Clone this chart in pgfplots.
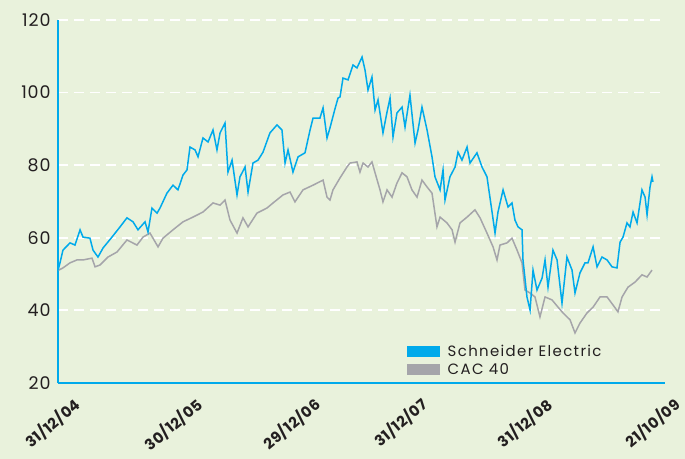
\documentclass[border=0pt]{standalone}
\usepackage{fontspec}
\setmainfont{Poppins}
\newfontfamily\ylabfont[LetterSpace=5]{Poppins}
\newfontfamily\xlabfont[LetterSpace=3]{Poppins}
\newfontfamily\legfont[LetterSpace=9]{Poppins}
\usepackage{pgfplots}
\pgfplotsset{compat=1.18}
\definecolor{bgc}{RGB}{233,242,220}
\definecolor{blueC}{RGB}{0,170,235}
\definecolor{greyC}{RGB}{165,165,170}
\definecolor{txt}{RGB}{35,31,32}
\begin{document}
\begin{tikzpicture}
\fill[bgc] (0bp,0bp) rectangle (685bp,459bp);
\begin{axis}[
  at={(58bp,76bp)}, anchor=south west,
  scale only axis, width=607bp, height=363bp,
  xmin=0, xmax=4.903, ymin=20, ymax=120,
  axis x line=bottom, axis y line=left,
  axis line style={blueC, line width=2bp, -},
  ytick={20,40,60,80,100,120},
  yticklabels={20,40,60,80,100,120},
  xtick={0.057,1.042,1.995,2.859,3.869,4.903},
  xticklabels={31/12/04,30/12/05,29/12/06,31/12/07,31/12/08,21/10/09},
  major tick length=0pt,
  ymajorgrids,
  grid style={white, line width=1.8bp, dash pattern=on 10bp off 6bp},
  yticklabel style={font=\ylabfont\fontsize{17.5}{17.5}\selectfont, text=txt, xshift=-4bp},
  xticklabel style={font=\xlabfont\bfseries\fontsize{15}{15}\selectfont, text=txt, xshift=8bp, yshift=-8bp, rotate=40, anchor=north east},
  reverse legend,
  legend image code/.code={\fill[#1] (0bp,-5bp) rectangle (31bp,5bp);},
  legend style={at={(rel axis cs:0.575,0.110)}, anchor=north west, draw=none, fill=none,
    inner sep=0pt, font=\legfont\fontsize{15}{15}\selectfont, text=txt, cells={anchor=west}, row sep=1bp,
    /tikz/every odd column/.append style={column sep=6bp}},
]
\addplot[color=greyC, line width=1.5bp] coordinates {
(0,51) (0.040,51.7) (0.097,53.1) (0.153,53.9) (0.202,53.9) (0.275,54.4) (0.299,52.0) (0.339,52.5) (0.404,54.7) (0.477,56.1) (0.557,59.4) (0.638,58.0) (0.687,60.2) (0.743,61.3) (0.808,57.5) (0.848,59.9) (0.929,62.2) (1.010,64.4) (1.090,65.7) (1.171,67.1) (1.252,69.6) (1.309,69.0) (1.349,70.4) (1.389,64.9) (1.446,61.3) (1.494,65.5) (1.535,63.0) (1.607,66.8) (1.688,68.2) (1.737,69.6) (1.817,71.8) (1.874,72.6) (1.914,69.9) (1.979,73.2) (2.060,74.5) (2.141,75.9) (2.173,71.2) (2.197,70.4) (2.221,73.2) (2.278,76.5) (2.334,79.5) (2.359,80.6) (2.415,80.9) (2.439,78.1) (2.464,80.6) (2.504,79.5) (2.536,80.9) (2.561,77.9) (2.601,73.2) (2.625,69.9) (2.658,73.2) (2.698,71.2) (2.738,75.1) (2.779,77.9) (2.819,76.8) (2.859,73.2) (2.900,71.2) (2.940,75.9) (2.981,74.0) (3.021,72.3) (3.061,63.0) (3.086,65.7) (3.142,64.1) (3.183,62.2) (3.207,58.8) (3.247,64.1) (3.304,65.7) (3.368,67.7) (3.409,65.5) (3.465,61.3) (3.514,57.5) (3.546,53.9) (3.570,58.0) (3.627,58.6) (3.667,59.9) (3.708,56.6) (3.748,53.1) (3.772,45.6) (3.813,44.8) (3.853,43.7) (3.893,38.2) (3.934,43.7) (3.990,42.9) (4.039,40.9) (4.079,39.3) (4.136,37.4) (4.176,33.8) (4.216,36.5) (4.273,39.3) (4.322,40.9) (4.378,43.7) (4.435,43.7) (4.483,41.5) (4.523,39.6) (4.556,43.7) (4.604,46.4) (4.661,47.8) (4.717,49.8) (4.758,49.2) (4.798,51.1)
};
\addlegendentry{CAC 40}
\addplot[color=blueC, line width=1.5bp] coordinates {
(0,51) (0.016,53.1) (0.040,56.6) (0.097,58.6) (0.137,58.0) (0.178,62.2) (0.202,60.2) (0.258,59.9) (0.283,56.6) (0.323,54.7) (0.364,57.2) (0.436,60.2) (0.501,63.0) (0.557,65.5) (0.606,64.4) (0.646,62.2) (0.703,64.4) (0.727,61.6) (0.759,68.2) (0.800,66.8) (0.824,68.2) (0.880,72.3) (0.929,74.5) (0.969,73.2) (1.010,77.3) (1.042,78.7) (1.066,85.0) (1.107,84.2) (1.131,82.3) (1.171,87.5) (1.212,86.4) (1.252,89.7) (1.284,84.2) (1.309,88.9) (1.349,91.6) (1.373,78.1) (1.406,81.4) (1.446,71.8) (1.470,76.8) (1.511,79.5) (1.535,72.6) (1.575,80.6) (1.616,81.4) (1.656,83.6) (1.712,88.9) (1.769,91.1) (1.809,89.7) (1.834,80.6) (1.858,84.2) (1.898,78.1) (1.939,82.3) (1.995,83.4) (2.036,89.7) (2.060,93.0) (2.116,93.0) (2.141,95.8) (2.173,87.5) (2.197,90.3) (2.237,95.5) (2.262,98.5) (2.278,98.8) (2.302,104.0) (2.343,103.5) (2.383,107.6) (2.415,106.8) (2.456,109.8) (2.480,106.2) (2.504,100.7) (2.536,104.3) (2.561,95.2) (2.585,98.0) (2.625,88.9) (2.658,94.7) (2.682,98.5) (2.706,87.8) (2.738,94.4) (2.779,96.0) (2.803,90.5) (2.843,99.3) (2.884,86.1) (2.908,89.7) (2.940,96.0) (2.981,89.7) (3.021,82.3) (3.045,76.8) (3.086,73.2) (3.110,78.7) (3.126,70.4) (3.166,76.8) (3.207,79.5) (3.231,83.6) (3.263,81.4) (3.304,85.0) (3.328,80.6) (3.384,83.4) (3.425,79.5) (3.465,76.8) (3.506,67.1) (3.530,61.3) (3.554,67.1) (3.595,73.2) (3.635,68.5) (3.667,69.6) (3.691,64.9) (3.716,63.0) (3.748,62.2) (3.756,53.9) (3.788,43.7) (3.813,40.1) (3.837,51.1) (3.869,45.6) (3.910,48.9) (3.934,53.9) (3.958,46.4) (3.998,56.6) (4.031,53.9) (4.071,42.0) (4.111,54.7) (4.152,51.1) (4.176,44.8) (4.216,50.3) (4.257,53.1) (4.281,53.1) (4.322,57.5) (4.354,52.0) (4.394,54.7) (4.435,53.9) (4.475,52.0) (4.515,51.7) (4.540,58.8) (4.564,60.2) (4.596,64.1) (4.620,63.0) (4.645,67.1) (4.677,64.1) (4.717,73.2) (4.742,71.2) (4.758,66.3) (4.782,74.0) (4.798,76.8) (4.806,75.4)
};
\addlegendentry{Schneider Electric}
\end{axis}
\pgfresetboundingbox
\useasboundingbox (0bp,0bp) rectangle (685bp,459bp);
\end{tikzpicture}
\end{document}
